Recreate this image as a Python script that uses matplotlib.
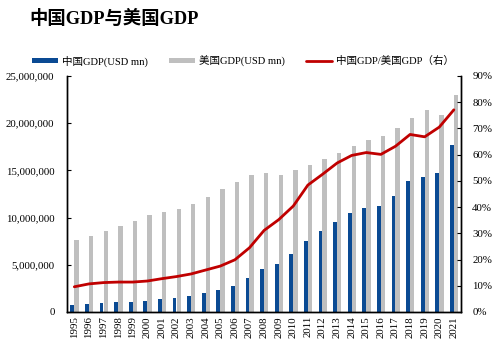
import numpy as np
import matplotlib.pyplot as plt
from matplotlib.ticker import FuncFormatter

years = [str(y) for y in range(1995, 2022)]

# GDP in USD mn
china_gdp = [734548, 863747, 961604, 1029043, 1093997, 1211347, 1339396, 1470550,
             1660288, 1955347, 2285966, 2752132, 3550342, 4594307, 5101703, 6087164,
             7551500, 8532230, 9570406, 10475683, 11061553, 11233277, 12310409,
             13894817, 14279937, 14722731, 17734063]
us_gdp = [7639749, 8073122, 8577552, 9062817, 9631172, 10250952, 10581929, 10929108,
          11456450, 12217196, 13039197, 13815583, 14474228, 14769862, 14478067,
          15048970, 15599731, 16253970, 16843196, 17550687, 18206023, 18695106,
          19477337, 20533058, 21380976, 20893746, 22996100]
# China / US, percent
ratio_pct = [9.6, 10.7, 11.2, 11.4, 11.4, 11.8, 12.7, 13.5, 14.5, 16.0, 17.5, 19.9,
             24.5, 31.1, 35.2, 40.4, 48.4, 52.5, 56.8, 59.7, 60.8, 60.1, 63.2, 67.7,
             66.8, 70.5, 77.1]

serif_cjk = ['Liberation Serif', 'Noto Sans CJK SC']
plt.rcParams['font.family'] = serif_cjk

BLUE = '#0a4a93'
GREY = '#bfbfbf'
RED = '#c00000'

fig = plt.figure(figsize=(5.04, 3.47), dpi=100)
ax = fig.add_axes([0.133, 0.101, 0.782, 0.680])
ax2 = ax.twinx()

x = np.arange(len(years))
b1 = ax.bar(x - 0.14, china_gdp, width=0.26, color=BLUE, label='中国GDP(USD mn)', zorder=2)
b2 = ax.bar(x + 0.15, us_gdp, width=0.30, color=GREY, label='美国GDP(USD mn)', zorder=2)
l1, = ax2.plot(x, ratio_pct, color=RED, lw=2.0, solid_joinstyle='round',
               solid_capstyle='round', label='中国GDP/美国GDP（右）')

ax.set_xlim(-0.5, len(years) - 0.5)
ax.set_ylim(0, 25000000)
ax.set_yticks(np.arange(0, 25000001, 5000000))
ax.yaxis.set_major_formatter(FuncFormatter(lambda v, p: f'{int(v):,}'))
ax2.set_ylim(0, 90)
ax2.set_yticks(np.arange(0, 91, 10))
ax2.yaxis.set_major_formatter(FuncFormatter(lambda v, p: f'{int(v)}%'))

ax.set_xticks(x)
ax.set_xticklabels(years, rotation=90, fontsize=7.8)
ax.tick_params(axis='x', length=0, pad=3)
ax.tick_params(axis='y', direction='in', length=3, pad=9, labelsize=7.8)
ax2.tick_params(axis='y', direction='in', length=3, pad=8, labelsize=7.8)

for a in (ax, ax2):
    a.spines['top'].set_visible(False)
    for s in ('left', 'right', 'bottom'):
        a.spines[s].set_linewidth(1.0)
        a.spines[s].set_color('black')

fig.text(0.058, 0.947, '中国GDP与美国GDP', fontsize=13.2, fontweight='bold',
         family=serif_cjk, ha='left', va='center')

fig.legend([b1, b2, l1], [b1.get_label(), b2.get_label(), l1.get_label()],
           loc='center', bbox_to_anchor=(0.482, 0.824), ncol=3, frameon=False,
           fontsize=7.6, handlelength=2.5, handleheight=0.35, handletextpad=0.35,
           columnspacing=2.0)

fig.savefig('out.png', dpi=100)
